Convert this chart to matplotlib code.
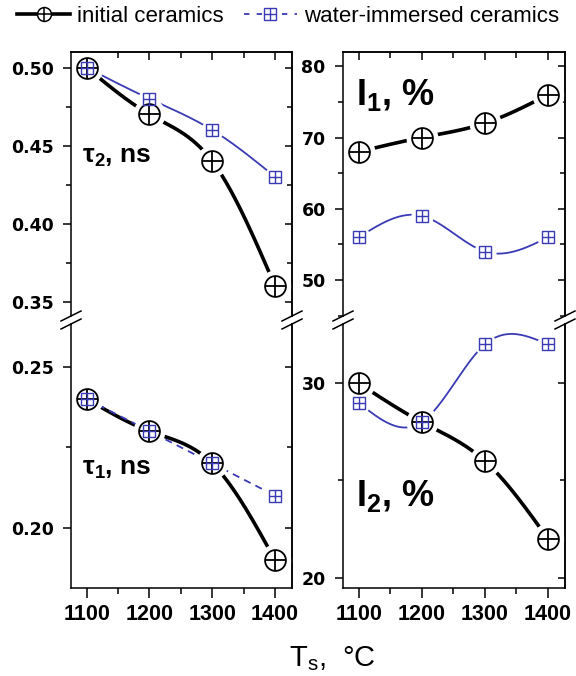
import numpy as np
import matplotlib.pyplot as plt
from matplotlib.lines import Line2D
from matplotlib.ticker import MultipleLocator, FormatStrFormatter

plt.rcParams['font.family'] = ['Liberation Sans', 'DejaVu Sans']
plt.rcParams['mathtext.fontset'] = 'custom'
plt.rcParams['mathtext.rm'] = 'Liberation Sans'
plt.rcParams['mathtext.it'] = 'Liberation Sans:italic'
plt.rcParams['mathtext.bf'] = 'Liberation Sans:bold'

# sintering temperature, C
temps = [1100, 1200, 1300, 1400]

# lifetimes, ns
tau2_initial = [0.50, 0.47, 0.44, 0.36]
tau2_water = [0.50, 0.48, 0.46, 0.43]
tau1_initial = [0.24, 0.23, 0.22, 0.19]
tau1_water = [0.24, 0.23, 0.22, 0.21]

# intensities, %
i1_initial = [68, 70, 72, 76]
i1_water = [56, 59, 54, 56]
i2_initial = [30, 28, 26, 22]
i2_water = [29, 28, 32, 32]

BLUE = '#3a3ab4'
W, H = 576, 676


def spline(x, y, n=200):
    # natural cubic spline through the points (Origin "spline" connect)
    x = np.asarray(x, float)
    y = np.asarray(y, float)
    k = len(x)
    h = np.diff(x)
    A = np.zeros((k, k))
    r = np.zeros(k)
    A[0, 0] = A[-1, -1] = 1
    for i in range(1, k - 1):
        A[i, i - 1] = h[i - 1]
        A[i, i] = 2 * (h[i - 1] + h[i])
        A[i, i + 1] = h[i]
        r[i] = 3 * ((y[i + 1] - y[i]) / h[i] - (y[i] - y[i - 1]) / h[i - 1])
    c = np.linalg.solve(A, r)
    b = (y[1:] - y[:-1]) / h - h * (2 * c[:-1] + c[1:]) / 3
    d = (c[1:] - c[:-1]) / (3 * h)
    xs = np.linspace(x[0], x[-1], n)
    idx = np.clip(np.searchsorted(x, xs) - 1, 0, k - 2)
    dx = xs - x[idx]
    ys = y[idx] + b[idx] * dx + c[idx] * dx ** 2 + d[idx] * dx ** 3
    return xs, ys


def px_axes(x0, x1, y0, y1):
    return fig.add_axes([x0 / W, 1 - y1 / H, (x1 - x0) / W, (y1 - y0) / H])


def draw_series(ax, y_init, y_water, water_ls='-'):
    xs, ys = spline(temps, y_init)
    ax.plot(xs, ys, color='black', lw=2.6, solid_capstyle='butt', zorder=2.0)
    xs, ys = spline(temps, y_water)
    ax.plot(xs, ys, color=BLUE, lw=1.3, ls=water_ls, zorder=2.0)
    # white halos leave a gap between the curves and the symbols
    ax.plot(temps, y_init, ls='none', marker='o', ms=23, mfc='white', mec='none', zorder=2.1)
    ax.plot(temps, y_water, ls='none', marker='o', ms=16, mfc='white', mec='none', zorder=2.1)
    ax.plot(temps, y_init, ls='none', marker='o', ms=15, mfc='none', mec='black', mew=1.3, zorder=2.2)
    ax.plot(temps, y_init, ls='none', marker='+', ms=15, mec='black', mew=1.3, zorder=2.2)
    ax.plot(temps, y_water, ls='none', marker='s', ms=8.5, mfc='none', mec=BLUE, mew=1.0, zorder=2.3)
    ax.plot(temps, y_water, ls='none', marker='+', ms=8.5, mec=BLUE, mew=1.0, zorder=2.3)


def style(ax, top, ylim, major, minor, fmt):
    ax.set_xlim(1075, 1427)
    ax.set_ylim(*ylim)
    ax.xaxis.set_major_locator(MultipleLocator(100))
    ax.xaxis.set_minor_locator(MultipleLocator(50))
    ax.yaxis.set_major_locator(MultipleLocator(major))
    ax.yaxis.set_minor_locator(MultipleLocator(minor))
    ax.yaxis.set_major_formatter(FormatStrFormatter(fmt))
    for s in ax.spines.values():
        s.set_linewidth(1.1)
    ax.tick_params(axis='y', which='both', direction='out', left=True, right=False, width=1.1)
    ax.tick_params(axis='y', which='major', length=5.5, pad=7)
    ax.tick_params(axis='y', which='minor', length=3.5)
    for lab in ax.get_yticklabels():
        lab.set_fontfamily('DejaVu Sans')
        lab.set_fontweight('bold')
        lab.set_fontsize(12.5)
    sy = ax.secondary_yaxis('right')
    sy.yaxis.set_major_locator(MultipleLocator(major))
    sy.yaxis.set_minor_locator(MultipleLocator(minor))
    sy.tick_params(which='both', direction='in', labelright=False, width=1.1)
    sy.tick_params(which='major', length=5)
    sy.tick_params(which='minor', length=3.5)
    sy.spines['right'].set_linewidth(1.1)
    if top:
        ax.spines['bottom'].set_visible(False)
        ax.tick_params(axis='x', which='both', bottom=False, labelbottom=False)
        sx = ax.secondary_xaxis('top')
        sx.xaxis.set_major_locator(MultipleLocator(100))
        sx.xaxis.set_minor_locator(MultipleLocator(50))
        sx.tick_params(which='both', direction='in', labeltop=False, width=1.1)
        sx.tick_params(which='major', length=6)
        sx.tick_params(which='minor', length=4)
        sx.spines['top'].set_linewidth(1.1)
    else:
        ax.spines['top'].set_visible(False)
        ax.tick_params(axis='x', which='both', direction='out', top=False, width=1.1)
        ax.tick_params(axis='x', which='major', length=7.5, pad=4)
        ax.tick_params(axis='x', which='minor', length=4.5)
        for lab in ax.get_xticklabels():
            lab.set_fontweight('bold')
            lab.set_fontsize(15.5)


fig = plt.figure(figsize=(W / 100, H / 100), dpi=100)

ax_tau2 = px_axes(71, 292, 52, 316)
ax_tau1 = px_axes(71, 292, 324, 588)
ax_i1 = px_axes(343, 565, 52, 316)
ax_i2 = px_axes(343, 565, 324, 588)

draw_series(ax_tau2, tau2_initial, tau2_water)
draw_series(ax_tau1, tau1_initial, tau1_water, water_ls=(0, (4, 3)))
draw_series(ax_i1, i1_initial, i1_water)
draw_series(ax_i2, i2_initial, i2_water)

style(ax_tau2, True, (0.3408, 0.510), 0.05, 0.025, '%.2f')
style(ax_tau1, False, (0.1813, 0.2633), 0.05, 0.025, '%.2f')
style(ax_i1, True, (44.95, 82.0), 10, 5, '%d')
style(ax_i2, False, (19.47, 33.05), 10, 5, '%d')

# panel captions
ax_tau2.text(0.05, 0.58, r'$\mathbf{\tau_2}$, ns', transform=ax_tau2.transAxes,
             fontsize=19, fontweight='bold', va='baseline')
ax_tau1.text(0.05, 0.43, r'$\mathbf{\tau_1}$, ns', transform=ax_tau1.transAxes,
             fontsize=19, fontweight='bold', va='baseline')
ax_i1.text(0.06, 0.80, r'$\mathbf{I_1}$, %', transform=ax_i1.transAxes,
           fontsize=26, fontweight='bold', va='baseline')
ax_i2.text(0.06, 0.31, r'$\mathbf{I_2}$, %', transform=ax_i2.transAxes,
           fontsize=26, fontweight='bold', va='baseline')

# axis break marks on both columns
for xs in (71, 292, 343, 565):
    for yb in (316, 324):
        fig.add_artist(Line2D([(xs - 10) / W, (xs + 10) / W],
                              [1 - (yb + 5) / H, 1 - (yb - 5) / H],
                              color='black', lw=1.1, transform=fig.transFigure))

fig.text(332 / W, 1 - 666 / H, r'T$_\mathregular{s}$,  °C', fontsize=21,
         ha='center', va='baseline')

h_init = (Line2D([], [], color='black', lw=2.6, marker='o', ms=10, mfc='white', mec='black', mew=1.1),
          Line2D([], [], ls='none', marker='+', ms=10, mec='black', mew=1.1))
h_water = (Line2D([], [], color=BLUE, lw=1.3, ls=(0, (3, 4)), marker='s', ms=8, mfc='white', mec=BLUE, mew=1.0),
           Line2D([], [], ls='none', marker='+', ms=8, mec=BLUE, mew=1.0))
fig.legend([h_init, h_water], ['initial ceramics', 'water-immersed ceramics'],
           loc='center', bbox_to_anchor=(0.5, 1 - 16 / H), ncol=2, frameon=False,
           fontsize=16, handlelength=2.4, handletextpad=0.3, columnspacing=0.9)

fig.savefig('out.png', dpi=100)
